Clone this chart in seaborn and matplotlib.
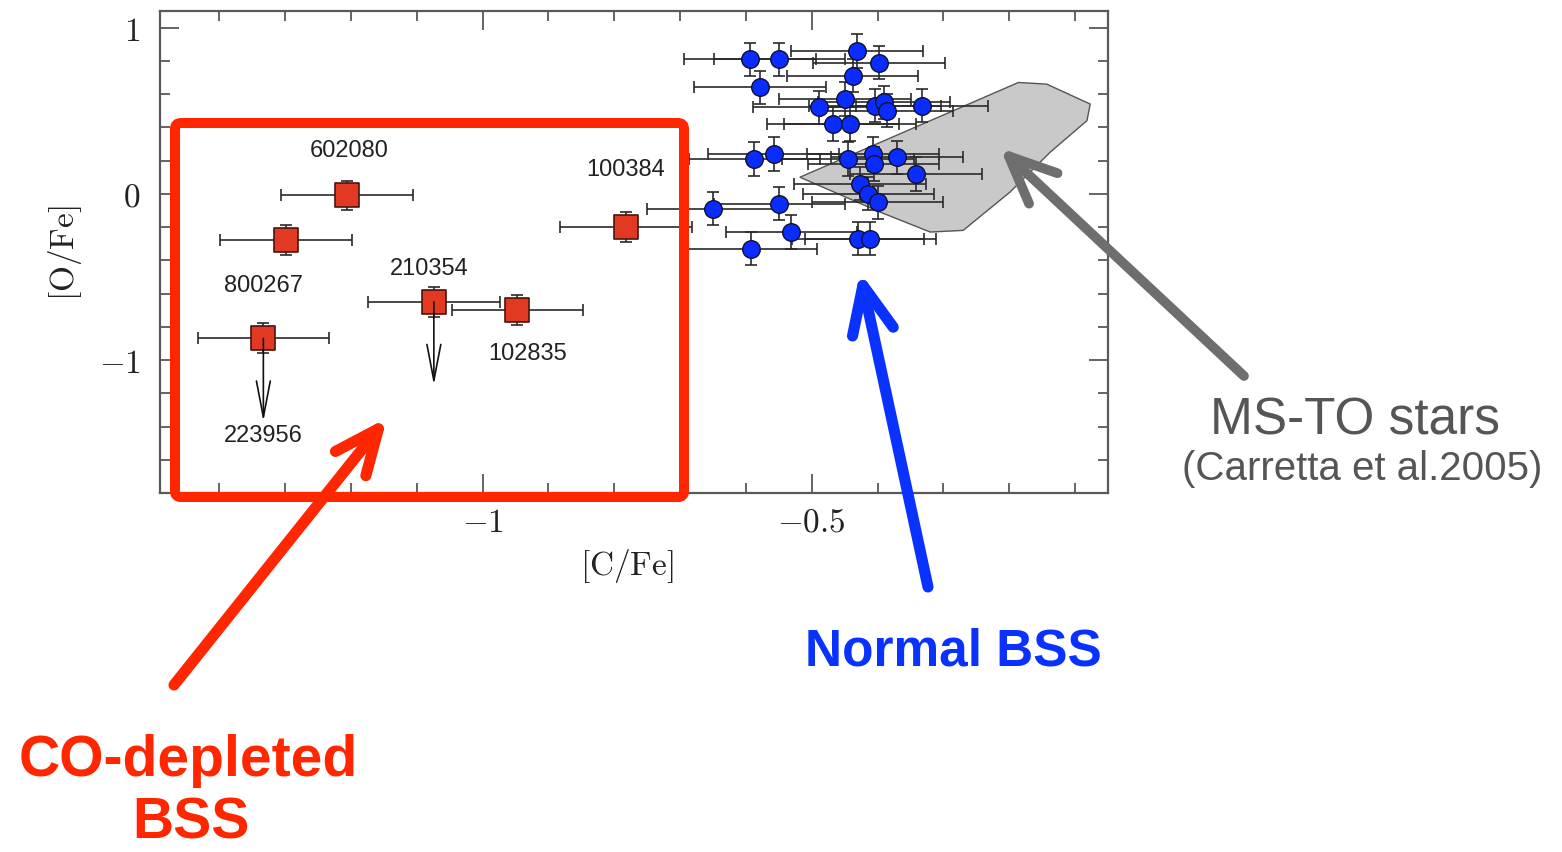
import matplotlib
matplotlib.use("Agg")
import matplotlib.pyplot as plt
import matplotlib.transforms as mtransforms
from matplotlib.patches import FancyBboxPatch, FancyArrowPatch
from matplotlib.ticker import MultipleLocator, FuncFormatter
import numpy as np
import pandas as pd
import seaborn as sns

# ---- CO-depleted blue stragglers ([C/Fe], [O/Fe]) ----
co_ids = ["602080", "800267", "223956", "210354", "102835", "100384"]
co_cfe = [-1.206, -1.299, -1.333, -1.074, -0.947, -0.782]
co_ofe = [-0.01, -0.28, -0.87, -0.65, -0.70, -0.20]
co_upper_limit = [False, False, True, True, False, False]

# ---- normal blue stragglers ----
bss_cfe = [-0.594, -0.549, -0.431, -0.398, -0.438, -0.579, -0.449, -0.489, -0.404, -0.390,
           -0.386, -0.333, -0.468, -0.442, -0.587, -0.558, -0.445, -0.407, -0.406, -0.371,
           -0.342, -0.427, -0.414, -0.400, -0.650, -0.549, -0.531, -0.592, -0.430, -0.411]
bss_ofe = [0.81, 0.81, 0.86, 0.79, 0.71, 0.64, 0.57, 0.52, 0.53, 0.55,
           0.50, 0.53, 0.42, 0.42, 0.21, 0.24, 0.21, 0.24, 0.18, 0.22,
           0.12, 0.06, 0.00, -0.05, -0.09, -0.06, -0.23, -0.33, -0.27, -0.27]

# typical uncertainties
cfe_err = 0.10
ofe_err_co = 0.09
ofe_err_bss = 0.10

# ---- MS-TO locus (Carretta et al. 2005) ----
msto_cfe = [-0.518, -0.186, -0.143, -0.077, -0.082, -0.138, -0.199, -0.270, -0.320, -0.396]
msto_ofe = [0.10, 0.67, 0.66, 0.54, 0.44, 0.25, 0.01, -0.22, -0.23, -0.11]

co_df = pd.DataFrame({"id": co_ids, "cfe": co_cfe, "ofe": co_ofe, "ul": co_upper_limit})
bss_df = pd.DataFrame({"cfe": bss_cfe, "ofe": bss_ofe})

W, H, DPI = 1562, 853, 100
sns.set_theme(style="ticks")
plt.rcParams["mathtext.fontset"] = "cm"
plt.rcParams["font.family"] = ["Liberation Sans", "DejaVu Sans"]

fig = plt.figure(figsize=(W / DPI, H / DPI), dpi=DPI)
fig.patch.set_facecolor("white")
ax = fig.add_axes([160 / W, 1 - 494 / H, (1108 - 160) / W, (494 - 12) / H])
ax.set_facecolor("white")

# MS-TO region
ax.fill(msto_cfe, msto_ofe, facecolor="#c9c9c9", edgecolor="#555555", lw=1.0, zorder=1)

# error bars
ax.errorbar(bss_df["cfe"], bss_df["ofe"], xerr=cfe_err, yerr=ofe_err_bss, fmt="none",
            ecolor="#2a2a2a", elinewidth=1.2, capsize=4, capthick=1.2, zorder=2)
ax.errorbar(co_df["cfe"], co_df["ofe"], xerr=cfe_err, yerr=ofe_err_co, fmt="none",
            ecolor="#2a2a2a", elinewidth=1.2, capsize=4, capthick=1.2, zorder=2)

# markers
sns.scatterplot(data=bss_df, x="cfe", y="ofe", marker="o", s=160, color="#0a2cff",
                edgecolor="#101030", linewidth=1.0, ax=ax, zorder=3, legend=False)
sns.scatterplot(data=co_df, x="cfe", y="ofe", marker="s", s=300, color="#e23a22",
                edgecolor="#4a1410", linewidth=1.2, ax=ax, zorder=3, legend=False)

# upper limits on [O/Fe]
for _, r in co_df[co_df["ul"]].iterrows():
    ax.annotate("", xy=(r["cfe"], r["ofe"] - 0.50), xytext=(r["cfe"], r["ofe"]),
                arrowprops=dict(arrowstyle="->,head_length=2.6,head_width=0.5",
                                mutation_scale=10, color="#111111", lw=1.2,
                                shrinkA=0, shrinkB=0),
                zorder=4)

# star identifiers (offsets in pixels)
label_offsets = {"602080": (2, 45), "800267": (-22, -45), "223956": (0, -97),
                 "210354": (-5, 34), "102835": (10, -43), "100384": (0, 58)}
for _, r in co_df.iterrows():
    dx, dy = label_offsets[r["id"]]
    ax.annotate(r["id"], xy=(r["cfe"], r["ofe"]), xytext=(dx, dy),
                textcoords="offset pixels", ha="center", va="center",
                fontsize=17, color="#222222", family=["Liberation Sans", "DejaVu Sans"])

ax.set_xlim(-1.49, -0.05)
ax.set_ylim(-1.8, 1.1)
ax.xaxis.set_major_locator(MultipleLocator(0.5))
ax.xaxis.set_minor_locator(MultipleLocator(0.1))
ax.yaxis.set_major_locator(MultipleLocator(1.0))
ax.yaxis.set_minor_locator(MultipleLocator(0.2))


def fmt(v, pos):
    if abs(v) < 1e-9:
        return r"$0$"
    return r"$%g$" % v


ax.xaxis.set_major_formatter(FuncFormatter(fmt))
ax.yaxis.set_major_formatter(FuncFormatter(fmt))
ax.tick_params(which="both", direction="in", top=True, right=True, color="#4a4a4a",
               width=1.2, labelsize=24, labelcolor="#222222")
ax.tick_params(which="major", length=14)
ax.tick_params(which="minor", length=7)
ax.tick_params(axis="x", pad=10)
ax.tick_params(axis="y", pad=14)
for sp in ax.spines.values():
    sp.set_color("#5a5a5a")
    sp.set_linewidth(1.6)

ax.set_xlabel(r"$[\mathrm{C/Fe}]$", fontsize=24, color="#222222")
ax.set_ylabel(r"$[\mathrm{O/Fe}]$", fontsize=24, color="#222222")
ax.xaxis.set_label_coords((627 - 160) / 948, -(547 - 494) / 482)
ax.yaxis.set_label_coords((84 - 160) / 948, 0.5)

# ---- figure-level annotations, in pixel coordinates from the top-left corner ----
pix = mtransforms.Affine2D().scale(1 / W, -1 / H).translate(0, 1) + fig.transFigure

RED = "#ff2600"
BLUE = "#0a32ff"
GREY = "#6e6e6e"

box = FancyBboxPatch((175, 124), 684 - 175, 498 - 124,
                     boxstyle="round,pad=0,rounding_size=6", transform=pix,
                     facecolor="none", edgecolor=RED, lw=7.2, zorder=10)
fig.add_artist(box)


def big_arrow(tail, tip, color, lw, hl, hw):
    arr = FancyArrowPatch(tail, tip, transform=pix,
                          arrowstyle="->,head_length=%g,head_width=%g" % (hl, hw),
                          color=color, lw=lw, shrinkA=0, shrinkB=0,
                          capstyle="round", joinstyle="round", zorder=11)
    fig.add_artist(arr)


big_arrow((174, 686), (387, 419), RED, 8, 32, 14)
big_arrow((928, 588), (860, 273), BLUE, 8, 34, 15)
big_arrow((1244, 377), (1000, 149), GREY, 7, 34, 15)

fig.text(188, 776, "CO-depleted", transform=pix, ha="center", va="baseline",
         fontsize=41, fontweight="bold", color=RED)
fig.text(191, 839, "BSS", transform=pix, ha="center", va="baseline",
         fontsize=41, fontweight="bold", color=RED)
fig.text(953, 666, "Normal BSS", transform=pix, ha="center", va="baseline",
         fontsize=37, fontweight="bold", color=BLUE)
fig.text(1355, 435, "MS-TO stars", transform=pix, ha="center", va="baseline",
         fontsize=37, color="#555555")
fig.text(1362, 480, "(Carretta et al.2005)", transform=pix, ha="center", va="baseline",
         fontsize=29, color="#555555")

fig.savefig("out.png", dpi=DPI, facecolor="white")
